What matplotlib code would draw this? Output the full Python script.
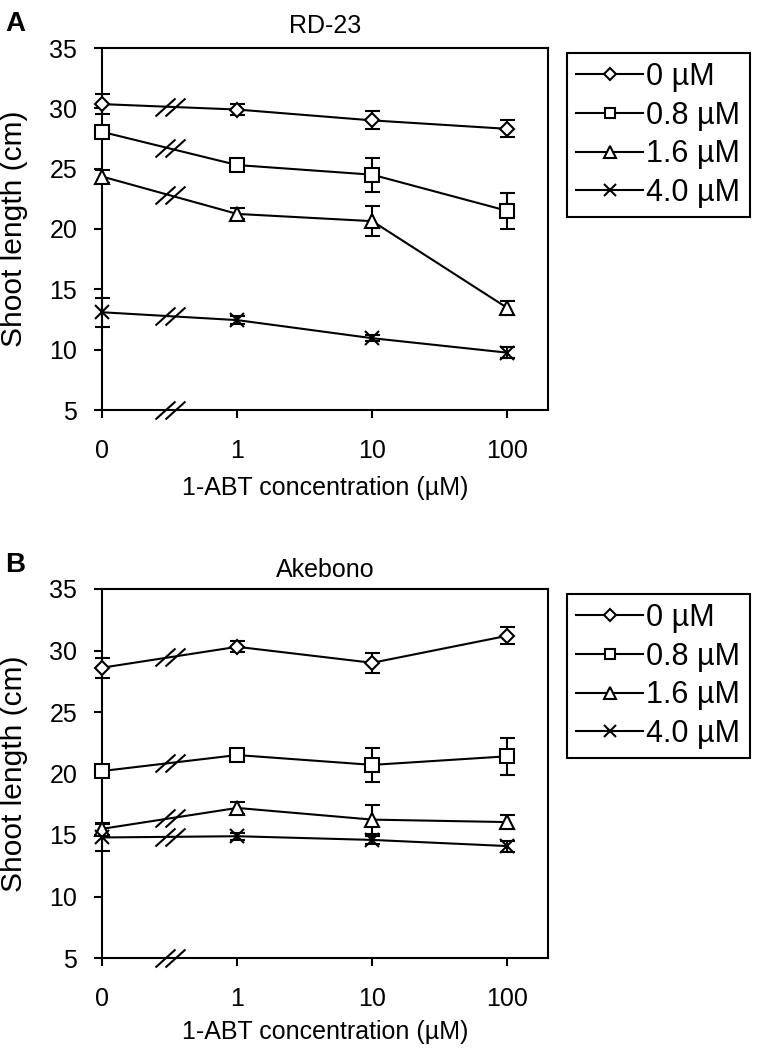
import numpy as np
import matplotlib
matplotlib.use("Agg")
import matplotlib.pyplot as plt
from matplotlib.path import Path
from matplotlib.lines import Line2D

plt.rcParams['font.family'] = ['Liberation Sans', 'DejaVu Sans']

# ---------------- data ----------------
x_labels = ["0", "1", "10", "100"]
series_labels = ["0 µM", "0.8 µM", "1.6 µM", "4.0 µM"]
panel_titles = ["RD-23", "Akebono"]
panel_letters = ["A", "B"]

rd23_0 = [30.35, 29.9, 29.0, 28.3]
rd23_0_err = [0.8, 0.45, 0.75, 0.7]
rd23_08 = [28.05, 25.3, 24.5, 21.5]
rd23_08_err = [0.5, 0.4, 1.4, 1.5]
rd23_16 = [24.35, 21.25, 20.65, 13.45]
rd23_16_err = [0.5, 0.45, 1.25, 0.6]
rd23_40 = [13.1, 12.45, 10.95, 9.75]
rd23_40_err = [1.2, 0.35, 0.25, 0.45]

ake_0 = [28.6, 30.3, 29.0, 31.2]
ake_0_err = [0.8, 0.45, 0.8, 0.7]
ake_08 = [20.2, 21.5, 20.7, 21.4]
ake_08_err = [0.4, 0.4, 1.4, 1.5]
ake_16 = [15.5, 17.2, 16.25, 16.05]
ake_16_err = [0.5, 0.5, 1.2, 0.6]
ake_40 = [14.8, 14.9, 14.6, 14.1]
ake_40_err = [1.1, 0.3, 0.3, 0.45]

panels = [
    ([rd23_0, rd23_08, rd23_16, rd23_40], [rd23_0_err, rd23_08_err, rd23_16_err, rd23_40_err]),
    ([ake_0, ake_08, ake_16, ake_40], [ake_0_err, ake_08_err, ake_16_err, ake_40_err]),
]

# ---------------- style ----------------
markers = ['D', 's', '^', 'x']
msizes = [7.6, 9.5, 10.5, 10]
leg_msizes = [6.3, 7.8, 8.5, 8.0]
LW = 1.5
FS = 18
YLFS = 21.5
LEGFS = 22

W, H = 759, 1051
fig = plt.figure(figsize=(W / 100, H / 100), dpi=100)

# axes boxes in pixels: (left, top, right, bottom)
boxes = [(102, 48, 548, 410), (102, 589, 548, 958)]
legend_tops = [53, 594]
title_baselines = [33, 577]
letter_baselines = [31, 572]
xlabel_centers = [488, 1032]

# break mark marker (two slashes)
verts = [(-15, -9), (5, 9), (-5, -9), (15, 9)]
codes = [Path.MOVETO, Path.LINETO, Path.MOVETO, Path.LINETO]
break_marker = Path(verts, codes)
break_ms = 30 * 0.72
break_x = 0.5

xpos = np.arange(len(x_labels))

for p, ((means_list, err_list), box) in enumerate(zip(panels, boxes)):
    l, t, r, b = box
    ax = fig.add_axes([l / W, 1 - b / H, (r - l) / W, (b - t) / H])
    for i, (m, e) in enumerate(zip(means_list, err_list)):
        ax.errorbar(xpos, m, yerr=e, color='black', lw=LW, marker=markers[i],
                    ms=msizes[i], mfc='white', mec='black', mew=LW,
                    ecolor='black', elinewidth=LW, capsize=5.4, capthick=LW,
                    zorder=3, clip_on=False)
        yb = np.interp(break_x, xpos, m)
        ax.plot([break_x], [yb], marker=break_marker, ms=break_ms, mew=LW,
                color='black', linestyle='none', zorder=4)
    ax.set_xlim(0, 3.3)
    ax.set_ylim(5, 35)
    ax.plot([break_x], [5], marker=break_marker, ms=break_ms, mew=LW,
            color='black', linestyle='none', zorder=5, clip_on=False)
    ax.set_xticks(xpos)
    ax.set_xticklabels(x_labels)
    ax.set_yticks(np.arange(5, 36, 5))
    for s in ax.spines.values():
        s.set_linewidth(LW)
    ax.tick_params(axis='x', direction='out', length=5.8, width=LW, pad=15, labelsize=FS)
    ax.tick_params(axis='y', direction='out', length=5.8, width=LW, pad=12, labelsize=FS)

    cx = (l + r) / 2 / W
    fig.text(cx, 1 - title_baselines[p] / H, panel_titles[p], ha='center', va='baseline', fontsize=FS)
    fig.text(5 / W, 1 - letter_baselines[p] / H, panel_letters[p], ha='left', va='baseline',
             fontsize=20, fontweight='bold')
    fig.text(cx, 1 - xlabel_centers[p] / H, "1-ABT concentration (µM)", ha='center', va='center', fontsize=FS)
    fig.text(14 / W, 1 - (t + b) / 2 / H, "Shoot length (cm)", ha='center', va='center',
             rotation=90, fontsize=YLFS)

    handles = [Line2D([0], [0], color='black', lw=LW, marker=markers[i], ms=leg_msizes[i],
                      mfc='white', mec='black', mew=LW) for i in range(4)]
    leg = fig.legend(handles, series_labels, loc='upper left',
                     bbox_to_anchor=(567 / W, 1 - legend_tops[p] / H),
                     bbox_transform=fig.transFigure, borderaxespad=0,
                     fontsize=LEGFS, frameon=True, fancybox=False, framealpha=1,
                     edgecolor='black', handlelength=2.2, handletextpad=0.1,
                     borderpad=0.3, labelspacing=0.28)
    leg.get_frame().set_linewidth(LW)

fig.savefig("out.png", dpi=100)
